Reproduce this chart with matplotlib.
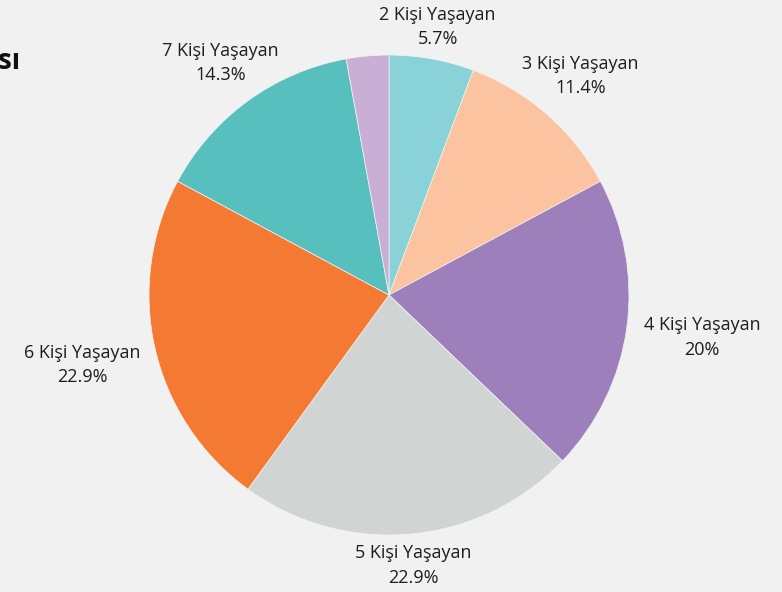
import numpy as np
import matplotlib
matplotlib.use("Agg")
import matplotlib.pyplot as plt

plt.rcParams['font.family'] = ['Open Sans', 'DejaVu Sans']

categories = ['2 Kişi Yaşayan', '3 Kişi Yaşayan', '4 Kişi Yaşayan', '5 Kişi Yaşayan',
              '6 Kişi Yaşayan', '7 Kişi Yaşayan', '8 Kişi Yaşayan']
counts = [2, 4, 7, 8, 8, 5, 1]
pct_labels = ['5.7%', '11.4%', '20%', '22.9%', '22.9%', '14.3%', '']
colors = ['#88D2D8', '#FBC39F', '#9D80BB', '#D0D5D3', '#F47A33', '#57BFBE', '#C9AFD5']
bg = '#F0F1F0'

fig = plt.figure(figsize=(7.82, 5.92), dpi=100, facecolor=bg)
ax = fig.add_axes([149 / 782, 57 / 592, 480 / 782, 480 / 592])
ax.set_facecolor(bg)

wedges, _ = ax.pie(counts, colors=colors, startangle=90, counterclock=False, radius=1,
                   wedgeprops=dict(edgecolor='#F4F4F4', linewidth=0.5))
ax.set_xlim(-1, 1)
ax.set_ylim(-1, 1)
ax.set_aspect('equal')
ax.axis('off')

# labels placed outside the slice, pushed out by half the text box
halfw, halfh = 0.28, 0.09
for w, name, p in zip(wedges, categories, pct_labels):
    if not p:
        continue
    ang = np.deg2rad((w.theta1 + w.theta2) / 2)
    c, s = np.cos(ang), np.sin(ang)
    d = 1.04 + halfw * c ** 2 + halfh * s ** 2
    ax.text(d * c, d * s, name + '\n' + p, ha='center', va='center', fontsize=13,
            color='#1E1E1E', linespacing=1.45, clip_on=False)

fig.text(20 / 782, 1 - 62 / 592, 'Hanede Yaşayan Kişi Sayısı', ha='right', va='center',
         fontsize=20, fontweight='bold', color='#111111')

fig.savefig('out.png', dpi=100, facecolor=bg)
